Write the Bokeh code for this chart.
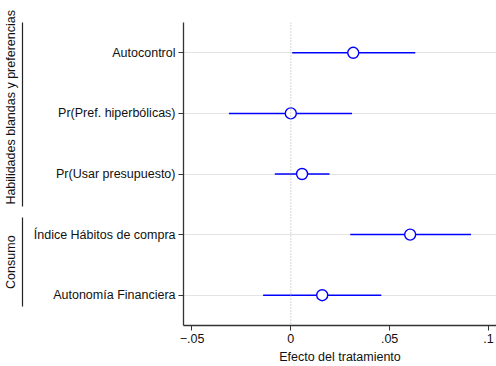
import math
from bokeh.plotting import figure
from bokeh.models import Range1d, FixedTicker, Span, ColumnDataSource, LinearAxis
from bokeh.embed import file_html
from bokeh.resources import INLINE

# ---- data ----
labels = ["Autocontrol", "Pr(Pref. hiperbólicas)", "Pr(Usar presupuesto)",
          "Índice Hábitos de compra", "Autonomía Financiera"]
coef = [0.0316, 0.0000, 0.0057, 0.0604, 0.0159]
ci_lo = [0.0007, -0.0313, -0.0081, 0.0301, -0.0140]
ci_hi = [0.0630, 0.0310, 0.0196, 0.0912, 0.0458]
xticks = [-0.05, 0.0, 0.05, 0.1]
xtick_labels = ["\u2212.05", "0", ".05", ".1"]
groups = ["Habilidades blandas y preferencias", "Consumo"]
group_top = [5.73, 2.28]      # bracket extents in row units
group_bottom = [2.47, 0.81]

n = len(labels)
ypos = [n - i for i in range(n)]

FONT = "Liberation Sans"
FS = "12.5px"
BLUE = "#0000ff"
INK = "#111111"

H = 366
W = 496
TOP = 22
BOTTOM = 40
LEFT = 183
YMIN, YMAX = 0.5, n + 0.5
XMIN, XMAX = -0.0543, 0.1041

src = ColumnDataSource(dict(y=ypos, coef=coef, lo=ci_lo, hi=ci_hi))

p = figure(width=W, height=H, output_backend="svg", toolbar_location=None,
           x_range=Range1d(XMIN, XMAX), y_range=Range1d(YMIN, YMAX),
           min_border_left=LEFT, min_border_right=0, min_border_top=TOP,
           min_border_bottom=BOTTOM)
p.outline_line_color = None
p.background_fill_color = "white"
p.border_fill_color = "white"

p.xgrid.grid_line_color = None
p.ygrid.grid_line_color = "#e3e3e3"
p.ygrid.grid_line_width = 1

p.yaxis.ticker = FixedTicker(ticks=ypos)
p.yaxis.major_label_overrides = {y: l for y, l in zip(ypos, labels)}
p.xaxis.ticker = FixedTicker(ticks=xticks)
p.xaxis.major_label_overrides = {t: l for t, l in zip(xticks, xtick_labels)}
p.xaxis.axis_label = "Efecto del tratamiento"

for ax in (p.xaxis[0], p.yaxis[0]):
    ax.axis_line_color = "#333333"
    ax.axis_line_width = 1.3
    ax.major_tick_line_color = "#333333"
    ax.major_tick_in = 0
    ax.major_tick_out = 5
    ax.minor_tick_line_color = None
    ax.major_label_text_font = FONT
    ax.major_label_text_font_size = FS
    ax.major_label_text_color = INK
    ax.major_label_standoff = 3
    ax.axis_label_text_font = FONT
    ax.axis_label_text_font_size = FS
    ax.axis_label_text_font_style = "normal"
    ax.axis_label_text_color = INK
    ax.axis_label_standoff = 4

p.add_layout(Span(location=0, dimension="height", line_color="#b0b0b0",
                  line_dash="1 2", line_width=1))

p.segment(x0="lo", x1="hi", y0="y", y1="y", source=src, line_color=BLUE,
          line_width=1.5)
p.scatter(x="coef", y="y", source=src, size=11, marker="circle",
          fill_color="white", line_color=BLUE, line_width=1.4)

# ---- group brackets and labels as extra left axes ----
def blank_axis(**kw):
    a = LinearAxis(**kw)
    a.axis_line_color = None
    a.major_tick_line_color = None
    a.minor_tick_line_color = None
    a.major_tick_in = 0
    a.minor_tick_in = 0
    a.minor_tick_out = 0
    a.major_label_standoff = 0
    return a

# spacer between item labels and brackets
spacer = blank_axis(ticker=FixedTicker(ticks=[ypos[0]]))
spacer.major_tick_out = 8
spacer.major_label_overrides = {ypos[0]: ""}
spacer.major_label_text_font_size = "1px"
p.add_layout(spacer, "left")

# one bracket per group (zero-width axes sharing the same position)
for top, bot in zip(group_top, group_bottom):
    b = blank_axis(ticker=FixedTicker(ticks=[]), bounds=(bot, top))
    b.major_tick_out = 0
    b.axis_line_color = "#222222"
    b.axis_line_width = 1.2
    b.major_label_text_font_size = "1px"
    p.add_layout(b, "left")

# group labels
gmid = [(a + b) / 2 for a, b in zip(group_top, group_bottom)]
g = blank_axis(ticker=FixedTicker(ticks=gmid))
g.major_tick_out = 0
g.major_label_standoff = 4
g.major_label_overrides = {m: name for m, name in zip(gmid, groups)}
g.major_label_orientation = "parallel"
g.major_label_text_font = FONT
g.major_label_text_font_size = FS
g.major_label_text_color = INK
p.add_layout(g, "left")

open("out.html", "w").write(file_html(p, INLINE))
